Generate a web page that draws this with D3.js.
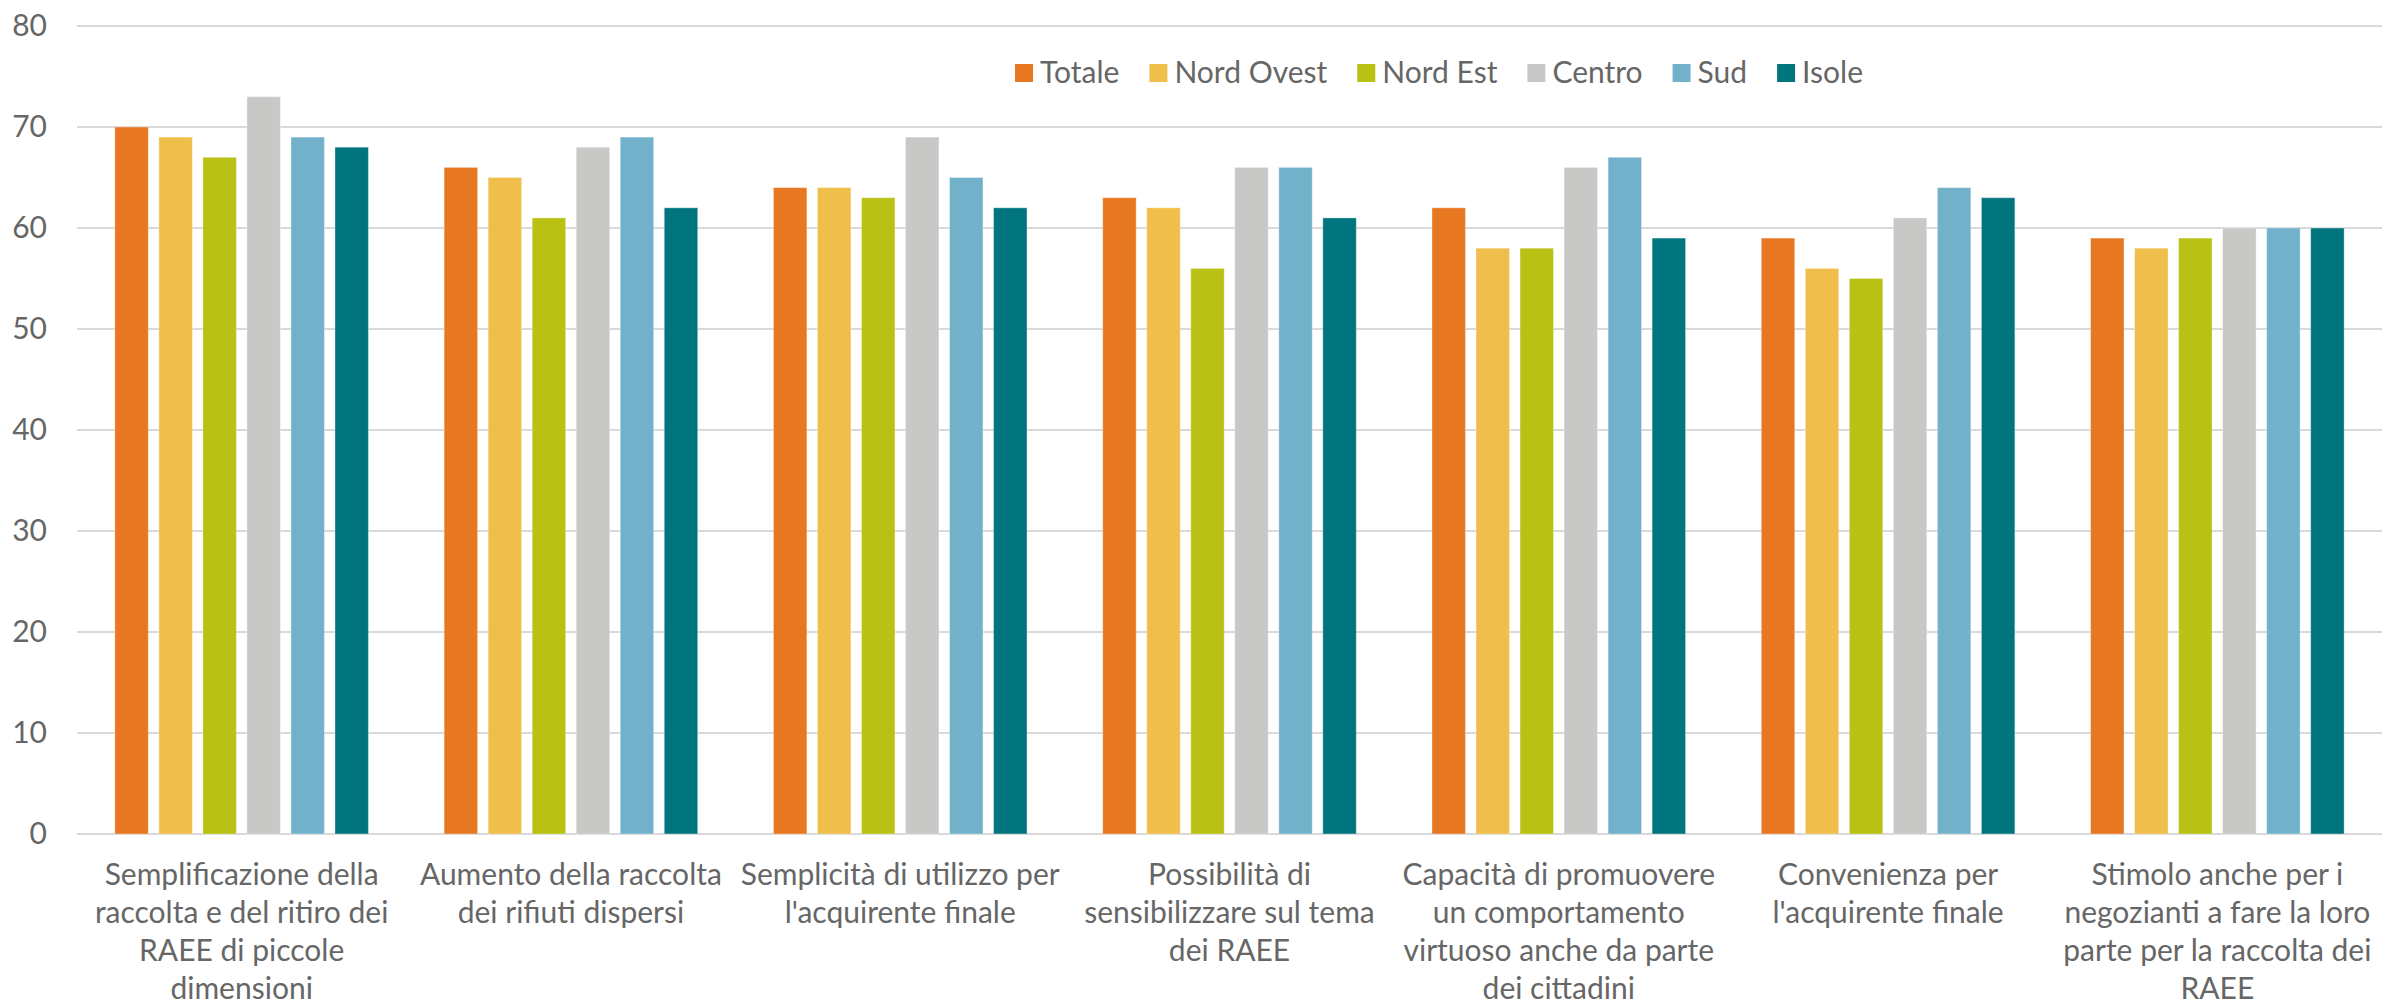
<!DOCTYPE html>
<html>
<head>
<meta charset="utf-8">
<script src="https://cdn.jsdelivr.net/npm/d3@7"></script>
<style>
  body { margin: 0; background: #fff; }
  text { font-family: Lato, "Open Sans", sans-serif; fill: #666; }
</style>
</head>
<body>
<div id="chart"></div>
<script>
// Categories (line breaks as in the original)
var categories = [
  "Semplificazione della\nraccolta e del ritiro dei\nRAEE di piccole\ndimensioni",
  "Aumento della raccolta\ndei rifiuti dispersi",
  "Semplicità di utilizzo per\nl'acquirente finale",
  "Possibilità di\nsensibilizzare sul tema\ndei RAEE",
  "Capacità di promuovere\nun comportamento\nvirtuoso anche da parte\ndei cittadini",
  "Convenienza per\nl'acquirente finale",
  "Stimolo anche per i\nnegozianti a fare la loro\nparte per la raccolta dei\nRAEE"
];
var seriesNames = ["Totale", "Nord Ovest", "Nord Est", "Centro", "Sud", "Isole"];
var seriesColors = ["#E87722", "#F0BE4A", "#B8C114", "#C8C8C6", "#72B1CA", "#00757E"];

var totale    = [70, 66, 64, 63, 62, 59, 59];
var nordOvest = [69, 65, 64, 62, 58, 56, 58];
var nordEst   = [67, 61, 63, 56, 58, 55, 59];
var centro    = [73, 68, 69, 66, 66, 61, 60];
var sud       = [69, 69, 65, 66, 67, 64, 60];
var isole     = [68, 62, 62, 61, 59, 63, 60];
var yTicks = [0, 10, 20, 30, 40, 50, 60, 70, 80];

var seriesValues = [totale, nordOvest, nordEst, centro, sud, isole];

var totalWidth = 2382, totalHeight = 1007;
var margin = { top: 26, right: 0, bottom: 173, left: 77 };
var width = totalWidth - margin.left - margin.right;
var height = totalHeight - margin.top - margin.bottom;
var fontSize = 30;

var svg = d3.select('#chart')
  .append('svg')
  .attr('width', totalWidth)
  .attr('height', totalHeight);

var main = svg.append('g')
  .attr('transform', 'translate(' + margin.left + ',' + margin.top + ')');

// Scales
var x0 = d3.scaleBand().domain(d3.range(categories.length)).range([0, width]);
var x1 = d3.scaleBand().domain(d3.range(seriesNames.length))
  .range([0, x0.bandwidth()])
  .paddingInner(0.24)
  .paddingOuter(0.86);
var y = d3.scaleLinear().domain([0, 80]).range([height, 0]);

// Gridlines
main.append('g')
  .selectAll('line')
  .data(yTicks)
  .enter().append('line')
  .attr('x1', 0)
  .attr('x2', width)
  .attr('y1', function(d) { return y(d); })
  .attr('y2', function(d) { return y(d); })
  .attr('stroke', '#d9d9d9')
  .attr('stroke-width', 2);

// Y axis labels
var yAxis = main.append('g')
  .call(d3.axisLeft(y).tickValues(yTicks).tickSize(0).tickPadding(30));
yAxis.select('.domain').remove();
yAxis.selectAll('text')
  .attr('font-size', 30)
  .attr('fill', '#666')
  .style('font-family', null);

// Bars
var groups = main.selectAll('.group')
  .data(categories)
  .enter().append('g')
  .attr('class', 'group')
  .attr('transform', function(d, i) { return 'translate(' + x0(i) + ',0)'; });

groups.selectAll('rect')
  .data(function(d, i) {
    return seriesValues.map(function(vals, s) { return { s: s, v: vals[i] }; });
  })
  .enter().append('rect')
  .attr('x', function(d) { return x1(d.s); })
  .attr('y', function(d) { return y(d.v); })
  .attr('width', x1.bandwidth())
  .attr('height', function(d) { return height - y(d.v); })
  .attr('fill', function(d) { return seriesColors[d.s]; })
  .attr('stroke', 'rgba(255,255,255,0.35)')
  .attr('stroke-width', 1);

// Category labels
var xAxis = main.append('g')
  .attr('transform', 'translate(0,' + height + ')');
xAxis.selectAll('text')
  .data(categories)
  .enter().append('text')
  .attr('x', function(d, i) { return x0(i) + x0.bandwidth() / 2; })
  .attr('y', 51)
  .attr('text-anchor', 'middle')
  .attr('font-size', fontSize)
  .each(function(d) {
    var t = d3.select(this);
    d.split('\n').forEach(function(line, k) {
      t.append('tspan')
        .attr('x', t.attr('x'))
        .attr('dy', k === 0 ? 0 : 38)
        .text(line);
    });
  });

// Legend, laid out from the text widths and centred like the original
var legend = svg.append('g').attr('transform', 'translate(0,73)');
var items = legend.selectAll('g')
  .data(seriesNames)
  .enter().append('g');
items.append('rect')
  .attr('x', 0)
  .attr('y', -9)
  .attr('width', 18)
  .attr('height', 18)
  .attr('fill', function(d, i) { return seriesColors[i]; });
items.append('text')
  .attr('x', 25)
  .attr('y', 10)
  .attr('font-size', fontSize)
  .text(function(d) { return d; });

var pos = 0, offsets = [];
items.each(function() {
  offsets.push(pos);
  pos += 25 + this.querySelector('text').getComputedTextLength() + 30;
});
var legendWidth = pos - 30;
var legendStart = 1439 - legendWidth / 2;
items.attr('transform', function(d, i) { return 'translate(' + (legendStart + offsets[i]) + ',0)'; });
</script>
</body>
</html>
